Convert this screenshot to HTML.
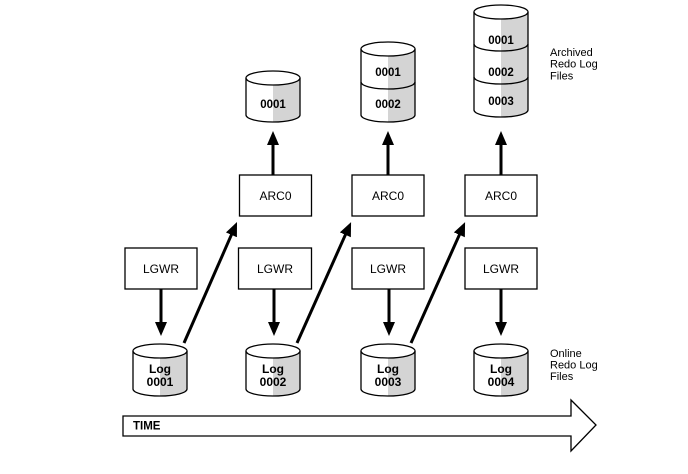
<!DOCTYPE html>
<html>
<head>
<meta charset="utf-8">
<style>
html,body{margin:0;padding:0;background:#fff;}
svg{display:block;}
text{font-family:"Liberation Sans",Arial,sans-serif;}
</style>
</head>
<body>
<svg width="688" height="474" viewBox="0 0 688 474" xmlns="http://www.w3.org/2000/svg">
<defs>
<marker id="ah" markerUnits="userSpaceOnUse" markerWidth="14" markerHeight="12" refX="4" refY="6" orient="auto">
<path d="M0,0 L14,6 L0,12 Z" fill="#000"/>
</marker>
</defs>

<!-- ===== Online log cylinders ===== -->
<g stroke="#000" stroke-width="1.3">
  <!-- col1 -->
  <path d="M133,351 V389 A27,7 0 0 0 187,389 V351 Z" fill="#fff" stroke="none"/>
  <path d="M160,351 H187 V389 A27,7 0 0 1 160,396 Z" fill="#d4d4d4" stroke="none"/>
  <path d="M133,351 V389 A27,7 0 0 0 187,389 V351" fill="none"/>
  <ellipse cx="160" cy="351" rx="27" ry="7" fill="#fff"/>
  <!-- col2 -->
  <path d="M246,351 V389 A27,7 0 0 0 300,389 V351 Z" fill="#fff" stroke="none"/>
  <path d="M273,351 H300 V389 A27,7 0 0 1 273,396 Z" fill="#d4d4d4" stroke="none"/>
  <path d="M246,351 V389 A27,7 0 0 0 300,389 V351" fill="none"/>
  <ellipse cx="273" cy="351" rx="27" ry="7" fill="#fff"/>
  <!-- col3 -->
  <path d="M361,351 V389 A27,7 0 0 0 415,389 V351 Z" fill="#fff" stroke="none"/>
  <path d="M388,351 H415 V389 A27,7 0 0 1 388,396 Z" fill="#d4d4d4" stroke="none"/>
  <path d="M361,351 V389 A27,7 0 0 0 415,389 V351" fill="none"/>
  <ellipse cx="388" cy="351" rx="27" ry="7" fill="#fff"/>
  <!-- col4 -->
  <path d="M474,351 V389 A27,7 0 0 0 528,389 V351 Z" fill="#fff" stroke="none"/>
  <path d="M501,351 H528 V389 A27,7 0 0 1 501,396 Z" fill="#d4d4d4" stroke="none"/>
  <path d="M474,351 V389 A27,7 0 0 0 528,389 V351" fill="none"/>
  <ellipse cx="501" cy="351" rx="27" ry="7" fill="#fff"/>
</g>
<g font-size="12" font-weight="bold" text-anchor="middle" fill="#000">
  <text x="160" y="373">Log</text><text x="160" y="386">0001</text>
  <text x="273" y="373">Log</text><text x="273" y="386">0002</text>
  <text x="388" y="373">Log</text><text x="388" y="386">0003</text>
  <text x="501" y="373">Log</text><text x="501" y="386">0004</text>
</g>

<!-- ===== Archived cylinders ===== -->
<g stroke="#000" stroke-width="1.3">
  <!-- col2: one segment -->
  <path d="M246,78 V115 A27,7 0 0 0 300,115 V78 Z" fill="#fff" stroke="none"/>
  <path d="M273,78 H300 V115 A27,7 0 0 1 273,122 Z" fill="#d4d4d4" stroke="none"/>
  <path d="M246,78 V115 A27,7 0 0 0 300,115 V78" fill="none"/>
  <ellipse cx="273" cy="78" rx="27" ry="7" fill="#fff"/>
  <!-- col3: two segments -->
  <path d="M361,49 V115 A27,7 0 0 0 415,115 V49 Z" fill="#fff" stroke="none"/>
  <path d="M388,49 H415 V115 A27,7 0 0 1 388,122 Z" fill="#d4d4d4" stroke="none"/>
  <path d="M361,49 V115 A27,7 0 0 0 415,115 V49" fill="none"/>
  <path d="M361,82 A27,7 0 0 0 415,82" fill="none"/>
  <ellipse cx="388" cy="49" rx="27" ry="7" fill="#fff"/>
  <!-- col4: three segments -->
  <path d="M474,12 V110 A27,7 0 0 0 528,110 V12 Z" fill="#fff" stroke="none"/>
  <path d="M501,12 H528 V110 A27,7 0 0 1 501,117 Z" fill="#d4d4d4" stroke="none"/>
  <path d="M474,12 V110 A27,7 0 0 0 528,110 V12" fill="none"/>
  <path d="M474,44 A27,7 0 0 0 528,44" fill="none"/>
  <path d="M474,77 A27,7 0 0 0 528,77" fill="none"/>
  <ellipse cx="501" cy="12" rx="27" ry="7" fill="#fff"/>
</g>
<g font-size="11.5" font-weight="bold" text-anchor="middle" fill="#000">
  <text x="273" y="108">0001</text>
  <text x="388" y="76">0001</text>
  <text x="388" y="108">0002</text>
  <text x="501" y="44">0001</text>
  <text x="501" y="76">0002</text>
  <text x="501" y="105">0003</text>
</g>

<!-- ===== Boxes ===== -->
<g fill="#fff" stroke="#000" stroke-width="1.3">
  <rect x="125" y="248" width="72" height="41"/>
  <rect x="238.5" y="248" width="73" height="41"/>
  <rect x="352" y="248" width="72" height="41"/>
  <rect x="465" y="248" width="72" height="41"/>
  <rect x="239.5" y="175" width="72" height="41"/>
  <rect x="352" y="175" width="72" height="41"/>
  <rect x="465" y="175" width="72" height="41"/>
</g>
<g font-size="12" text-anchor="middle" fill="#000">
  <text x="161" y="273">LGWR</text>
  <text x="275" y="273">LGWR</text>
  <text x="388" y="273">LGWR</text>
  <text x="501" y="273">LGWR</text>
  <text x="275.5" y="200">ARC0</text>
  <text x="388" y="200">ARC0</text>
  <text x="501" y="200">ARC0</text>
</g>

<!-- ===== Arrows ===== -->
<g stroke="#000" stroke-width="3" fill="none" marker-end="url(#ah)">
  <!-- LGWR -> Log -->
  <line x1="161" y1="289" x2="161" y2="326"/>
  <line x1="274" y1="289" x2="274" y2="326"/>
  <line x1="389" y1="289" x2="389" y2="326"/>
  <line x1="501" y1="289" x2="501" y2="326"/>
  <!-- ARC0 -> archive -->
  <line x1="273" y1="175" x2="273" y2="141"/>
  <line x1="388" y1="175" x2="388" y2="141"/>
  <line x1="501" y1="175" x2="501" y2="141"/>
  <!-- Log -> ARC0 diagonals -->
  <line x1="184" y1="343" x2="233" y2="231.2"/>
  <line x1="297" y1="343" x2="347" y2="231.2"/>
  <line x1="411" y1="343" x2="461" y2="231.2"/>
</g>

<!-- ===== TIME arrow ===== -->
<polygon points="123,416 571,416 571,400 596,425 571,451 571,436 123,436" fill="#fff" stroke="#000" stroke-width="1.3"/>
<text x="133" y="429.5" font-size="11.5" font-weight="bold" fill="#000">TIME</text>

<!-- ===== Side labels ===== -->
<g font-size="11" fill="#000">
  <text x="550" y="56">Archived</text>
  <text x="550" y="67.5">Redo Log</text>
  <text x="550" y="79.5">Files</text>
  <text x="550" y="357">Online</text>
  <text x="550" y="368.5">Redo Log</text>
  <text x="550" y="380">Files</text>
</g>
</svg>
</body>
</html>
